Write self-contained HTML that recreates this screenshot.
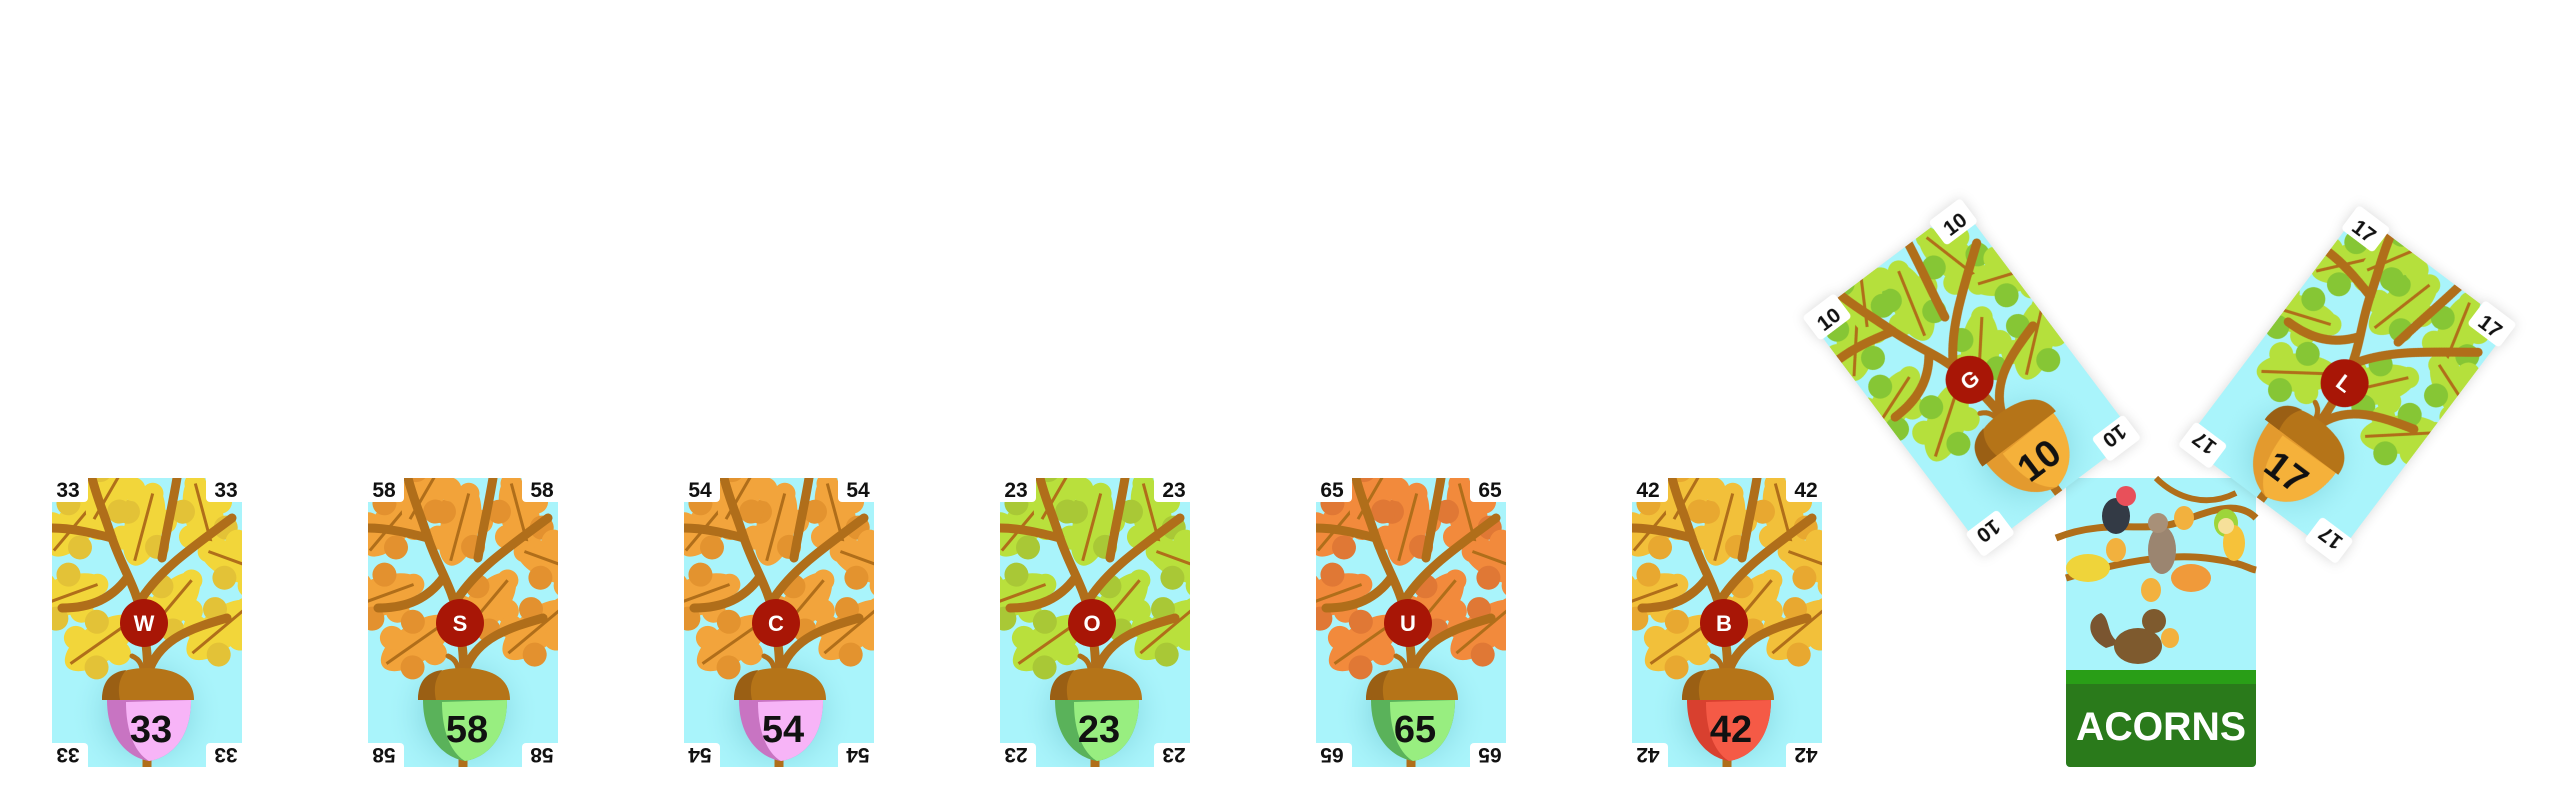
<!DOCTYPE html>
<html><head><meta charset="utf-8">
<style>
html,body{margin:0;padding:0;background:#fff;width:2560px;height:800px;overflow:hidden;}
#stage{position:relative;width:2560px;height:800px;}
.card{position:absolute;width:190px;height:289px;}
.card svg{display:block;overflow:visible;}
text{font-family:"Liberation Sans",sans-serif;font-weight:bold;}
</style></head>
<body>
<div id="stage">
  <div class="card" id="deck" style="left:2066px;top:478px;">
    <svg width="190" height="289" viewBox="0 0 190 289">
      <rect x="0" y="0" width="190" height="289" rx="4" fill="#a9f4fb"/>
      <path d="M-10 60 C40 40 80 55 110 45 S170 20 190 40" stroke="#b06e1a" stroke-width="7" fill="none"/>
      <path d="M0 100 C50 85 100 75 140 80 S180 90 190 92" stroke="#b06e1a" stroke-width="7" fill="none"/>
      <path d="M90 0 C110 20 140 30 170 15" stroke="#b06e1a" stroke-width="6" fill="none"/>
      <g fill="#f2b13e"><ellipse cx="50" cy="72" rx="10" ry="12"/><ellipse cx="85" cy="112" rx="10" ry="12"/><ellipse cx="118" cy="40" rx="10" ry="12"/></g>
      <ellipse cx="22" cy="90" rx="22" ry="14" fill="#efd43a"/>
      <ellipse cx="125" cy="100" rx="20" ry="14" fill="#f09a3a"/>
      <ellipse cx="160" cy="45" rx="12" ry="14" fill="#9ed53a"/>
      <ellipse cx="50" cy="38" rx="14" ry="18" fill="#333a45"/><circle cx="60" cy="18" r="10" fill="#e8505a"/>
      <ellipse cx="96" cy="72" rx="14" ry="24" fill="#9b8570"/><circle cx="92" cy="45" r="10" fill="#a89078"/>
      <ellipse cx="168" cy="65" rx="11" ry="18" fill="#f6c23a"/><circle cx="160" cy="48" r="8" fill="#f6e09a"/>
      <path d="M40 170 C20 160 20 140 35 135 C45 140 40 160 55 165 Z" fill="#7a5530"/>
      <ellipse cx="72" cy="168" rx="24" ry="18" fill="#7e5a2e"/><circle cx="88" cy="143" r="12" fill="#7e5a2e"/>
      <ellipse cx="104" cy="160" rx="9" ry="10" fill="#f2b13e"/>
      <rect x="0" y="192" width="190" height="14" fill="#299e17"/>
      <path d="M0 206 H190 V285 a4 4 0 0 1 -4 4 H4 a4 4 0 0 1 -4 -4 Z" fill="#2a7a1b"/>
      <text x="95" y="262" font-size="40" fill="#fff" text-anchor="middle" textLength="170" lengthAdjust="spacingAndGlyphs">ACORNS</text>
    </svg>
  </div>
</div>
<script>
const letters = ["W","S","C","O","U","B","G","L"];
const values = [33,58,54,23,65,42,10,17];
const leafA = ["#f2d63a","#f2a33a","#f2a43c","#b9e03c","#f28a3c","#f2c03a","#b5e03c","#b5e03c"];
const leafB = ["#e3c237","#e3912f","#e3932f","#a9c836","#e07835","#e8a830","#86c635","#86c635"];
const bodyA = ["#f7b4f7","#98ee80","#f7b4f7","#98ee80","#98ee80","#f55a46","#f5b13a","#f5b13a"];
const bodyB = ["#c874c2","#5ab25a","#c874c2","#5ab25a","#5ab25a","#d8402f","#e39a2e","#e39a2e"];
const leftPos = [52,368,684,1000,1316,1632];

const leaves = [[25,45,-50],[92,48,-75],[152,38,-105],[188,85,200],[14,118,-20],[48,165,-35],[118,128,-50],[168,152,-40],[60,10,-60]];

function leafSvg(x,y,a,c1,c2){
  return `<g transform="translate(${x} ${y}) rotate(${a}) scale(1.2)">
  <ellipse cx="0" cy="0" rx="34" ry="16" fill="${c1}"/>
  <circle cx="-14" cy="-15" r="10" fill="${c1}"/><circle cx="8" cy="-16" r="10" fill="${c2}"/>
  <circle cx="-14" cy="15" r="10" fill="${c2}"/><circle cx="8" cy="16" r="10" fill="${c1}"/>
  <circle cx="28" cy="0" r="9" fill="${c1}"/>
  <line x1="-30" y1="0" x2="28" y2="0" stroke="#b06e1a" stroke-width="2.5"/></g>`;
}

function cardSvg(i, uid){
  let s = `<svg width="190" height="289" viewBox="0 0 190 289">
  <defs><clipPath id="cp${uid}"><rect x="0" y="0" width="190" height="289"/></clipPath>
  <radialGradient id="rg${uid}"><stop offset="0" stop-color="#4aa8b5" stop-opacity="0.85"/><stop offset="1" stop-color="#a9f4fb" stop-opacity="0"/></radialGradient></defs>
  <rect x="0" y="0" width="190" height="289" fill="#a9f4fb"/>
  <g clip-path="url(#cp${uid})">
  <circle cx="95" cy="235" r="78" fill="url(#rg${uid})"/>`;
  leaves.forEach(l=>{ s += leafSvg(l[0],l[1],l[2],leafA[i],leafB[i]); });
  s += `<g stroke="#b06e1a" stroke-width="9" fill="none" stroke-linecap="round">
  <path d="M95 289 C95 230 100 190 90 140 C85 110 70 90 60 60 C50 30 45 20 40 0"/>
  <path d="M90 120 C110 90 140 70 180 40"/>
  <path d="M60 60 C40 55 20 50 0 50"/>
  <path d="M98 190 C110 160 140 150 175 140"/>
  <path d="M75 100 C60 120 40 130 10 130"/>
  <path d="M110 80 C115 50 120 30 125 0"/>
  </g>
  <path d="M90 200 C92 185 85 180 80 178" stroke="#b06e1a" stroke-width="5" fill="none" stroke-linecap="round"/>
  <path d="M55 222 C55 262 78 280 97 283 C117 280 139 262 139 222 Z" fill="${bodyB[i]}"/>
  <path d="M74 224 C74 262 88 278 97 283 C117 280 139 262 139 222 Z" fill="${bodyA[i]}"/>
  <path d="M50 222 C50 198 70 190 95 190 C120 190 142 198 142 222 Z" fill="#b57418"/>
  <path d="M50 222 C50 202 60 194 74 192 C66 202 66 212 68 222 Z" fill="#9a5f14"/>
  <text x="99" y="264" font-size="38" text-anchor="middle" fill="#111">${values[i]}</text>
  </g>
  <circle cx="92" cy="145" r="24" fill="#a81606"/>
  <text x="92" y="153" font-size="22" text-anchor="middle" fill="#fff">${letters[i]}</text>
  <rect x="-4" y="-6" width="40" height="30" rx="4" fill="#fff"/>
  <rect x="154" y="-6" width="40" height="30" rx="4" fill="#fff"/>
  <rect x="-4" y="265" width="40" height="30" rx="4" fill="#fff"/>
  <rect x="154" y="265" width="40" height="30" rx="4" fill="#fff"/>
  <text x="16" y="19" font-size="21" text-anchor="middle" fill="#111">${values[i]}</text>
  <text x="174" y="19" font-size="21" text-anchor="middle" fill="#111">${values[i]}</text>
  <text transform="translate(16 270) rotate(180)" font-size="21" text-anchor="middle" fill="#111">${values[i]}</text>
  <text transform="translate(174 270) rotate(180)" font-size="21" text-anchor="middle" fill="#111">${values[i]}</text>
  </svg>`;
  return s;
}

const stage = document.getElementById('stage');
for (let i=0;i<8;i++){
  const d = document.createElement('div');
  d.className = 'card';
  
  
  if (i < 6){
    d.style.left = leftPos[i] + 'px';
    d.style.top = '478px';
  } else {
    const cx = i===6 ? 1972 : 2347;
    const cy = i===6 ? 378 : 385;
    const ang = i===6 ? -37 : 37;
    d.style.left = (cx-95) + 'px';
    d.style.top = (cy-145) + 'px';
    d.style.transformOrigin = '95px 145px';
    d.style.transform = 'rotate(' + ang + 'deg)';
    d.style.filter = 'drop-shadow(0 0 6px rgba(0,0,0,0.15))';
  }
  d.innerHTML = cardSvg(i, i);
  stage.appendChild(d);
}
</script>
</body></html>
